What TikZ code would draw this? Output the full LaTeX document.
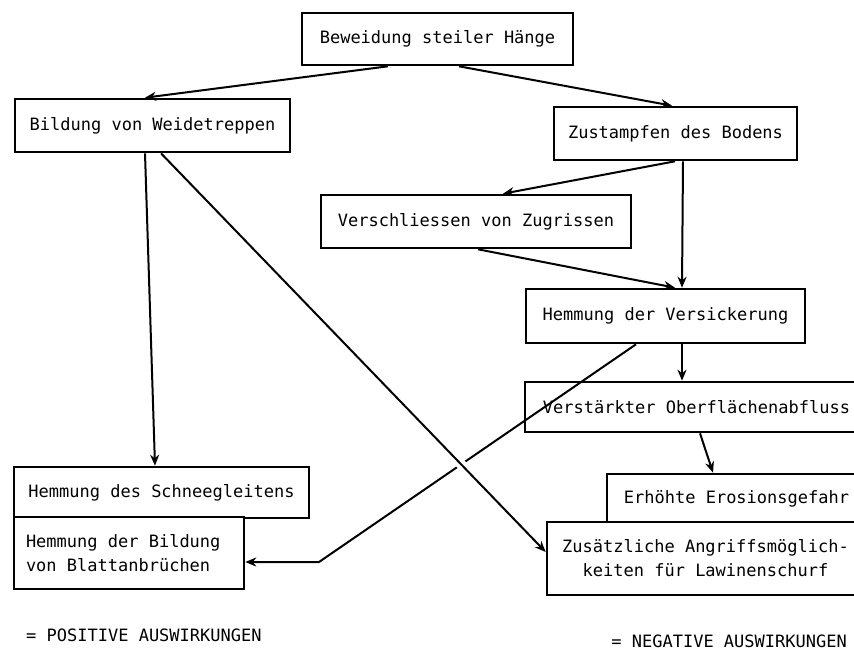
\documentclass[tikz,border=0pt]{standalone}
\usepackage{fontspec}
\setmonofont{DejaVu Sans Mono}
\usetikzlibrary{arrows.meta}
\begin{document}
\begin{tikzpicture}[x=1pt,y=-1pt,
  box/.style={draw, line width=2.6pt, inner sep=0pt, fill=white,
    font=\ttfamily\fontsize{17}{24}\selectfont, align=center},
  arr/.style={line width=2pt, -{Stealth[length=11pt,width=9pt]}},
  legend/.style={inner sep=0pt, font=\ttfamily\fontsize{17}{24}\selectfont}]
\useasboundingbox (0,0) rectangle (854,651);
\clip (0,0) rectangle (854,651);
\node[box, minimum width=271pt, minimum height=52pt] (A) at (437.5,39) {Beweidung steiler Hänge};
\node[box, minimum width=275pt, minimum height=53pt] (B) at (152.5,125.5) {Bildung von Weidetreppen};
\node[box, minimum width=243pt, minimum height=53pt] (C) at (675.5,133.5) {Zustampfen des Bodens};
\node[box, minimum width=310pt, minimum height=53pt] (D) at (476,221.5) {Verschliessen von Zugrissen};
\node[box, minimum width=279pt, minimum height=54pt] (E) at (665.5,316) {Hemmung der Versickerung};
\node[box, minimum width=343pt, minimum height=50pt] (F) at (696.5,407) {Verstärkter Oberflächenabfluss};
\node[box, minimum width=259pt, minimum height=49pt] (G) at (736.5,498.5) {Erhöhte Erosionsgefahr};
\node[box, minimum width=317pt, minimum height=73pt] (H) at (705.5,558.5) {Zusätzliche Angriffsmöglich-\\keiten für Lawinenschurf};
\node[box, minimum width=295pt, minimum height=51pt] (I) at (161.5,492.5) {Hemmung des Schneegleitens};
\node[box, minimum width=230pt, minimum height=72pt, text width=206pt, align=flush left] (J) at (129,553) {\spaceskip=\fontdimen2\font Hemmung der Bildung\\von Blattanbrüchen};
\node[legend, anchor=west] (pos) at (26,635) {= POSITIVE AUSWIRKUNGEN};
\node[legend, anchor=east] (neg) at (847,641.5) {= NEGATIVE AUSWIRKUNGEN};
\draw[arr] ([xshift=-49.5pt]A.south) -- ([xshift=-7.5pt]B.north);
\draw[arr] ([xshift=21.5pt]A.south) -- ([xshift=-3.5pt]C.north);
\draw[arr] ([xshift=-0.5pt]C.south) -- ([xshift=27pt]D.north);
\draw[arr] ([xshift=7.5pt]C.south) -- ([xshift=16.5pt]E.north);
\draw[arr] ([xshift=2pt]D.south) -- ([xshift=9.5pt]E.north);
\draw[arr] ([xshift=16.5pt]E.south) -- ([xshift=-14.5pt]F.north);
\draw[arr] ([xshift=3.5pt]F.south) -- ([xshift=-23.5pt]G.north);
\draw[arr] ([xshift=-7.5pt]B.south) -- ([xshift=-6.5pt]I.north);
\coordinate (jk) at (319,562);
\draw[arr] ([xshift=-29.5pt]E.south) -- (jk) -- (J.east |- jk);
\draw[arr, preaction={draw=white, line width=10pt, -, shorten <=40pt, shorten >=40pt}] ([xshift=8.5pt]B.south) -- ([yshift=6.5pt]H.west);
\end{tikzpicture}
\end{document}
